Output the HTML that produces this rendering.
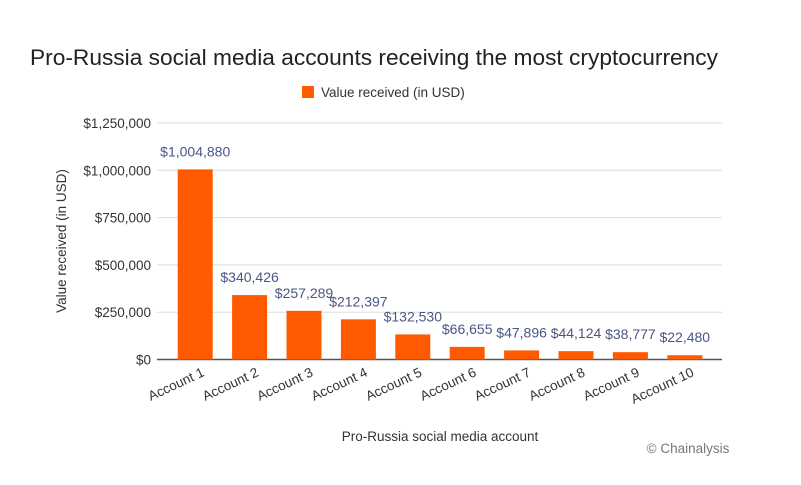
<!DOCTYPE html>
<html><head><meta charset="utf-8"><style>
body{margin:0;background:#fff;}
svg text{font-family:"Liberation Sans",sans-serif;}
</style></head><body>
<svg id="chart" width="801" height="480" viewBox="0 0 801 480" xmlns="http://www.w3.org/2000/svg">
<text x="374" y="65" text-anchor="middle" font-size="22.5" fill="#222" textLength="688" lengthAdjust="spacingAndGlyphs">Pro-Russia social media accounts receiving the most cryptocurrency</text>
<rect x="302" y="86" width="12" height="12" fill="#ff5a00"/>
<text x="321" y="97" font-size="13.5" fill="#333">Value received (in USD)</text>
<text transform="translate(66,241) rotate(-90)" text-anchor="middle" font-size="13.5" fill="#333">Value received (in USD)</text>
<text x="440" y="441" text-anchor="middle" font-size="13.5" fill="#333">Pro-Russia social media account</text>
<text x="688" y="453" text-anchor="middle" font-size="13.5" fill="#777">© Chainalysis</text>
<g id="grid"></g><g id="bars"></g>
</svg>
<script>
const categories=["Account 1","Account 2","Account 3","Account 4","Account 5","Account 6","Account 7","Account 8","Account 9","Account 10"];
const values=[1004880,340426,257289,212397,132530,66655,47896,44124,38777,22480];
const valueLabels=["$1,004,880","$340,426","$257,289","$212,397","$132,530","$66,655","$47,896","$44,124","$38,777","$22,480"];
const ticks=[0,250000,500000,750000,1000000,1250000];
const tickLabels=["$0","$250,000","$500,000","$750,000","$1,000,000","$1,250,000"];
const NS="http://www.w3.org/2000/svg";
const y0=359.5,y1=123,vmax=1250000,left=168,band=54.4,bw=35;
const y=v=>y0-(v/vmax)*(y0-y1);
const xc=i=>left+band*(i+0.5);
const grid=document.getElementById('grid'),bars=document.getElementById('bars');
function mk(tag,at,txt,parent){const e=document.createElementNS(NS,tag);for(const k in at)e.setAttribute(k,at[k]);if(txt!=null)e.textContent=txt;parent.appendChild(e);return e;}
ticks.forEach((t,i)=>{
 const l=mk('line',{x1:157,x2:722,y1:y(t),y2:y(t),stroke:i==0?'#555':'#ddd','stroke-width':i==0?1.5:1},null,grid);
 
 
 const tx=mk('text',{x:151,y:y(t)+5,'text-anchor':'end','font-size':13.5,fill:'#333'},tickLabels[i],grid);
 
 
});
values.forEach((v,i)=>{
 const r=mk('rect',{x:xc(i)-bw/2,y:y(v),width:bw,height:y0-y(v),fill:'#ff5a00'},null,bars);
 
 
 const t=mk('text',{x:xc(i),y:y(v)-13,'text-anchor':'middle','font-size':14,fill:'#4a5685'},valueLabels[i],bars);
 
 
 const c=mk('text',{transform:`translate(${xc(i)+10},${y0+16}) rotate(-25)`,'text-anchor':'end','font-size':13.5,fill:'#333'},categories[i],bars);
 
 
});
</script>
</body></html>
